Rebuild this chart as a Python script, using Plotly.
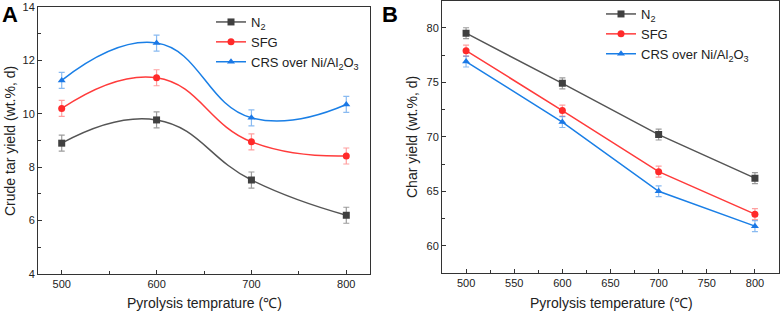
import plotly.graph_objects as go

temps = [500, 600, 700, 800]
series_names = ["N<sub>2</sub>", "SFG", "CRS over Ni/Al<sub>2</sub>O<sub>3</sub>"]

tar_n2 = [8.9, 9.77, 7.52, 6.2]
tar_sfg = [10.2, 11.35, 8.95, 8.42]
tar_crs = [11.25, 12.65, 9.85, 10.35]
tar_err = [0.3, 0.3, 0.3, 0.3]

char_n2 = [79.5, 74.9, 70.2, 66.2]
char_sfg = [77.9, 72.4, 66.8, 62.9]
char_crs = [76.9, 71.35, 65.0, 61.8]
char_err = [0.5, 0.5, 0.5, 0.5]

x_titles = ["Pyrolysis temprature (℃)", "Pyrolysis temperature (℃)"]
y_titles = ["Crude tar yield (wt.%, d)", "Char yield (wt.%, d)"]

line_colors = ["#555555", "#ff3b3b", "#1a7fe6"]
marker_colors = ["#404040", "#ff2a2a", "#1a78e6"]
err_colors = ["rgba(90,90,90,0.6)", "rgba(255,80,80,0.55)", "rgba(40,130,230,0.55)"]
symbols = ["square", "circle", "triangle-up"]

FONT = "Liberation Sans, Arial, sans-serif"
fig = go.Figure()

tar_sets = [tar_n2, tar_sfg, tar_crs]
char_sets = [char_n2, char_sfg, char_crs]
for i in range(3):
    fig.add_trace(go.Scatter(
        x=temps, y=tar_sets[i], name=series_names[i], mode="lines+markers",
        line=dict(color=line_colors[i], width=1.5, shape="spline", smoothing=1.3),
        marker=dict(symbol=symbols[i], size=7, color=marker_colors[i]),
        error_y=dict(type="data", array=tar_err, color=err_colors[i], thickness=1.2, width=3),
        xaxis="x", yaxis="y", legend="legend"))
for i in range(3):
    fig.add_trace(go.Scatter(
        x=temps, y=char_sets[i], name=series_names[i], mode="lines+markers",
        line=dict(color=line_colors[i], width=1.5),
        marker=dict(symbol=symbols[i], size=7, color=marker_colors[i]),
        error_y=dict(type="data", array=char_err, color=err_colors[i], thickness=1.2, width=3),
        xaxis="x2", yaxis="y2", legend="legend2"))

axis_common = dict(showline=True, linecolor="#333333", linewidth=1, mirror=True,
                   ticks="inside", ticklen=4, tickcolor="#333333", showgrid=False,
                   zeroline=False, automargin=False, tickfont=dict(size=11, color="#222"))

H = 313.0
W = 782.0
title_font = dict(size=14, color="#222", family=FONT)

fig.update_layout(
    width=782, height=313, margin=dict(l=0, r=0, t=0, b=0, autoexpand=False),
    paper_bgcolor="white", plot_bgcolor="white",
    font=dict(family=FONT, color="#222"),
    xaxis=dict(domain=[38/W, 370/W], range=[475, 825], tickvals=[500, 600, 700, 800],
               minor=dict(tickvals=[550, 650, 750], ticks="inside", ticklen=3, tickcolor="#333"),
               anchor="y", **axis_common),
    yaxis=dict(domain=[1-274/H, 1-7/H], range=[4, 14], dtick=2,
               minor=dict(dtick=1, ticks="inside", ticklen=3, tickcolor="#333"),
               anchor="x", **axis_common),
    xaxis2=dict(domain=[442/W, 779/W], range=[475, 825], dtick=50,
                minor=dict(dtick=25, ticks="inside", ticklen=3, tickcolor="#333"),
                anchor="y2", **axis_common),
    yaxis2=dict(domain=[1-273/H, 1-0.5/H], range=[57.5, 82.5], dtick=5,
                minor=dict(dtick=2.5, ticks="inside", ticklen=3, tickcolor="#333"),
                anchor="x2", **axis_common),
    legend=dict(x=211/W, y=1-7/H, xanchor="left", yanchor="top", bgcolor="rgba(0,0,0,0)",
                font=dict(size=13, color="#222"), itemwidth=30, tracegroupgap=0),
    legend2=dict(x=601/W, y=1+1/H, xanchor="left", yanchor="top", bgcolor="rgba(0,0,0,0)",
                 font=dict(size=13, color="#222"), itemwidth=30, tracegroupgap=0),
    annotations=[
        dict(text="<b>A</b>", x=0, y=1, xref="paper", yref="paper", xanchor="left", yanchor="top",
             showarrow=False, font=dict(size=22, color="black", family=FONT)),
        dict(text="<b>B</b>", x=380/W, y=1, xref="paper", yref="paper", xanchor="left", yanchor="top",
             showarrow=False, font=dict(size=22, color="black", family=FONT)),
        dict(text=x_titles[0], x=204/W, y=1-303/H, xref="paper", yref="paper",
             xanchor="center", yanchor="middle", showarrow=False, font=title_font),
        dict(text=x_titles[1], x=611/W, y=1-303/H, xref="paper", yref="paper",
             xanchor="center", yanchor="middle", showarrow=False, font=title_font),
        dict(text=y_titles[0], x=10/W, y=1-141/H, xref="paper", yref="paper", textangle=-90,
             xanchor="center", yanchor="middle", showarrow=False, font=title_font),
        dict(text=y_titles[1], x=412/W, y=1-137/H, xref="paper", yref="paper", textangle=-90,
             xanchor="center", yanchor="middle", showarrow=False, font=title_font),
    ],
)

fig.write_html(
    "out.html",
    config={"displayModeBar": False},
    post_script="document.body.style.margin='0';document.body.style.padding='0';"
                "document.documentElement.style.overflow='hidden';",
)
